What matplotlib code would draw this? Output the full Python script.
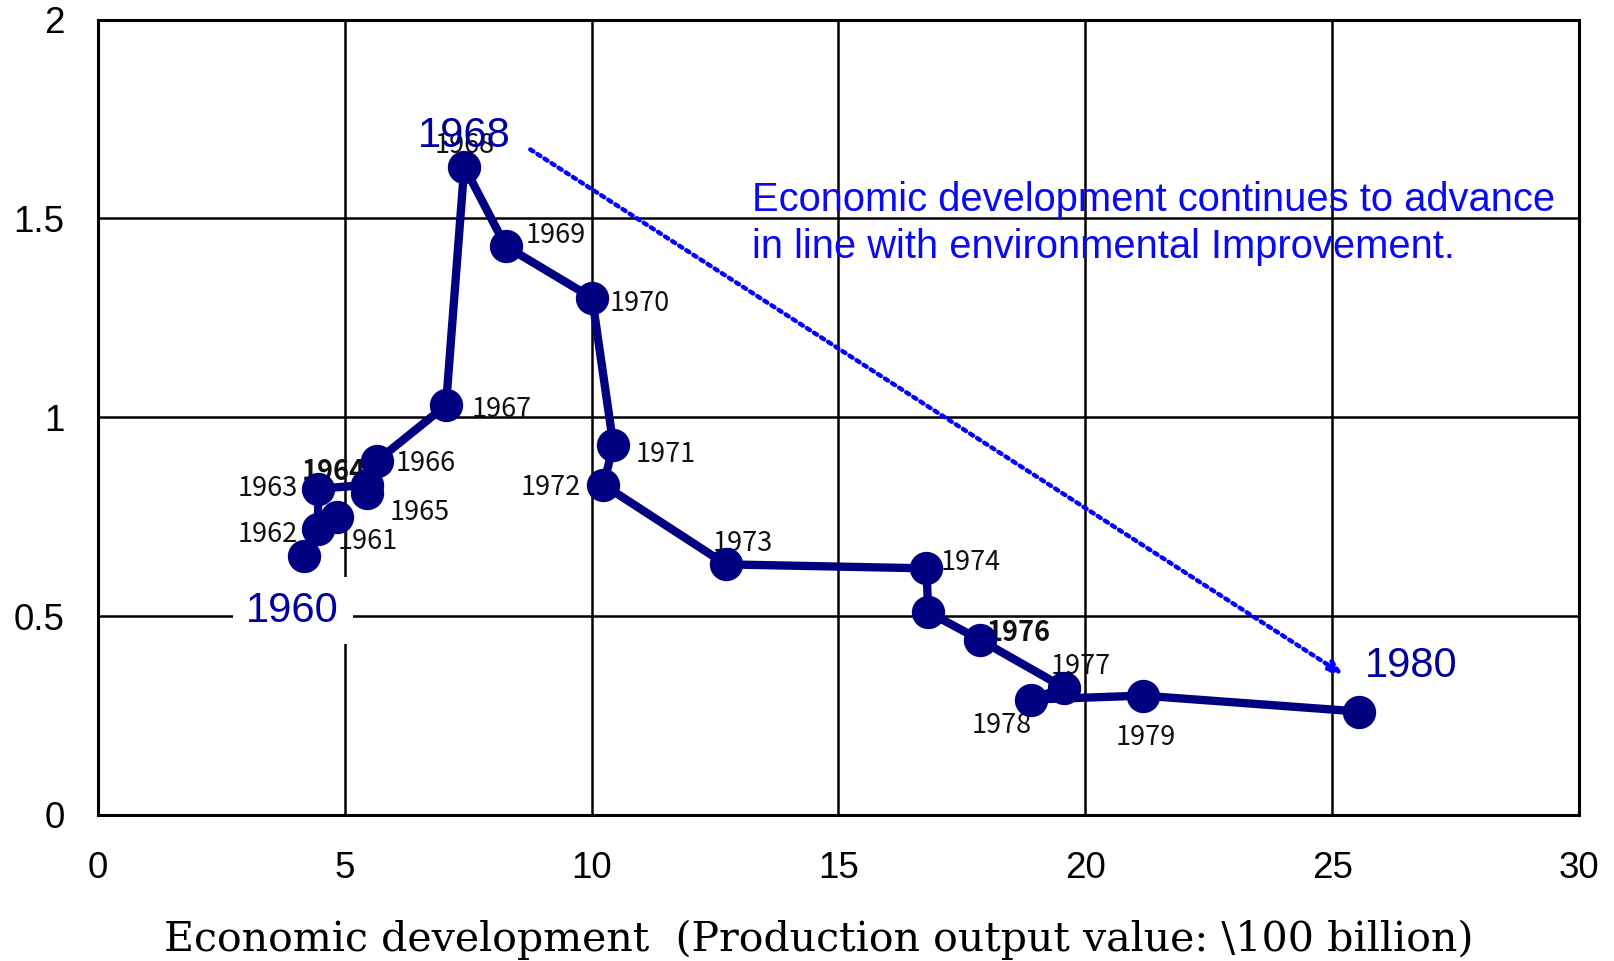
import matplotlib
matplotlib.use("Agg")
import matplotlib.pyplot as plt

# economic development (100 billion yen) vs. environmental load index, 1960-1980
years = list(range(1960, 1981))
econ = [4.17, 4.84, 4.46, 4.46, 5.45, 5.45, 5.65, 7.05, 7.42, 8.26, 10.01,
        10.44, 10.24, 12.72, 16.78, 16.82, 17.87, 19.57, 18.89, 21.16, 25.54]
env = [0.65, 0.75, 0.72, 0.82, 0.83, 0.81, 0.89, 1.03, 1.63, 1.43, 1.30,
       0.93, 0.83, 0.63, 0.62, 0.51, 0.44, 0.32, 0.29, 0.30, 0.26]

x_ticks = [0, 5, 10, 15, 20, 25, 30]
y_ticks = [0, 0.5, 1, 1.5, 2]

# small year labels: offset from marker in points
small_off = {1961: (22, -18), 1962: (-36, -4), 1963: (-36, 0), 1964: (-24, 9),
             1965: (38, -14), 1966: (35, -2), 1967: (40, -3), 1968: (0, 15),
             1969: (36, 8), 1970: (34, -4), 1971: (38, -7), 1972: (-38, -2),
             1973: (12, 15), 1974: (32, 4), 1976: (28, 5), 1977: (12, 15),
             1978: (-21, -19), 1979: (2, -30)}
big_off = {1960: (-8, -39), 1968: (0, 22), 1980: (38, 33)}

navy = "#000080"
dark_blue = "#0000a0"
bright_blue = "#0a0af0"

fig = plt.figure(figsize=(16.14, 9.61), dpi=100)
ax = fig.add_axes([0.0607, 0.152, 0.9176, 0.8277])

ax.plot(econ, env, color=navy, lw=6, marker="o", ms=23, zorder=4,
        solid_capstyle="round")

for i, yr in enumerate(years):
    if yr in small_off:
        bold = yr in (1964, 1976)
        ax.annotate(str(yr), (econ[i], env[i]), xytext=small_off[yr],
                    textcoords="offset points", ha="center", va="center",
                    fontsize=19.5, family="Noto Sans CJK JP", color="#111111",
                    fontweight="bold" if bold else "normal", zorder=3)

for i, yr in enumerate(years):
    if yr in big_off:
        bb = dict(fc="white", ec="none", pad=10) if yr == 1960 else None
        ax.annotate(str(yr), (econ[i], env[i]), xytext=big_off[yr],
                    textcoords="offset points", ha="center", va="center",
                    fontsize=30, family="Liberation Sans", color=dark_blue,
                    bbox=bb, zorder=5)

# trend arrow
ax.annotate("", xy=(25.27, 0.349), xytext=(8.71, 1.677),
            arrowprops=dict(arrowstyle="-|>,head_length=0.8,head_width=0.35",
                            color="#0000ff", lw=3.2, ls=(0, (0.8, 1.1))),
            zorder=6)
ax.text(13.24, 1.487,
        "Economic development continues to advance\nin line with environmental Improvement.",
        ha="left", va="center", fontsize=28.7, family="Liberation Sans",
        color=bright_blue, linespacing=1.3, zorder=6)

ax.set_xlim(0, 30)
ax.set_ylim(0, 2)
ax.set_xticks(x_ticks)
ax.set_yticks(y_ticks)
ax.set_xticklabels([str(v) for v in x_ticks])
ax.set_yticklabels(["0", "0.5", "1", "1.5", "2"])
ax.tick_params(length=0, labelsize=26.5)
ax.tick_params(axis="y", pad=24)
ax.tick_params(axis="x", pad=26)
for lab in ax.get_xticklabels() + ax.get_yticklabels():
    lab.set_family("Liberation Sans")
ax.grid(True, color="black", lw=1.8, zorder=1)
ax.set_axisbelow(True)
for s in ax.spines.values():
    s.set_linewidth(2.2)

fig.text(0.507, 0.022, "Economic development  (Production output value: \\100 billion)",
         ha="center", va="center", fontsize=29.6, family="DejaVu Serif")

fig.savefig("out.png", dpi=100)
